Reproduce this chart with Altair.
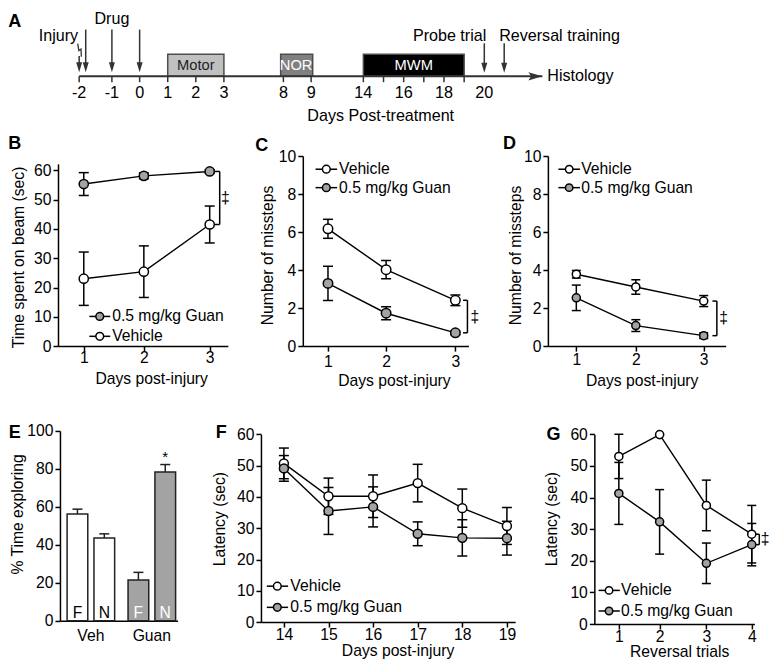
import altair as alt
import pandas as pd

# ------------------------------------------------------------------ data
SERIES_VEH = "Vehicle"
SERIES_GUAN = "0.5 mg/kg Guan"

# A: study timeline (days post-treatment)
A_tick_days = [-2, -1, 0, 1, 2, 3, 8, 9, 14, 15, 16, 17, 18, 19]
A_label_days = [-2, -1, 0, 1, 2, 3, 8, 9, 14, 16, 18, 20]
A_box_labels = ["Motor", "NOR", "MWM"]
A_box_start = [1, 7.77, 14]
A_box_end = [3, 9.15, 19]
A_injury_label = "Injury"
A_injury_day = -2
A_drug_label = "Drug"
A_drug_days = [-1.8, -1, 0]
A_event_labels = ["Probe trial", "Reversal training"]
A_event_days = [20, 21]
A_end_label = "Histology"
A_end_day = 22.9
A_axis_title = "Days Post-treatment"

# B: beam balance
B_days = [1, 2, 3]
B_guan = [55.3, 58.1, 59.6]
B_guan_sem = [3.9, 1.0, 0.6]
B_veh = [23.0, 25.4, 41.5]
B_veh_sem = [9.1, 8.8, 6.3]
B_yticks = [0, 10, 20, 30, 40, 50, 60]

# C: missteps (first test)
C_days = [1, 2, 3]
C_veh = [6.17, 4.02, 2.41]
C_veh_sem = [0.5, 0.48, 0.28]
C_guan = [3.3, 1.73, 0.7]
C_guan_sem = [0.9, 0.34, 0.1]
CD_yticks = [0, 2, 4, 6, 8, 10]

# D: missteps (second test)
D_days = [1, 2, 3]
D_veh = [3.78, 3.11, 2.37]
D_veh_sem = [0.2, 0.38, 0.29]
D_guan = [2.54, 1.08, 0.55]
D_guan_sem = [0.67, 0.31, 0.15]

# E: novel object recognition
E_groups = ["Veh", "Veh", "Guan", "Guan"]
E_objects = ["F", "N", "F", "N"]
E_vals = [56.2, 43.6, 21.5, 78.4]
E_sem = [2.6, 2.2, 4.0, 3.9]
E_sig = ["", "", "", "*"]
E_yticks = [0, 20, 40, 60, 80, 100]

# F: MWM acquisition
F_days = [14, 15, 16, 17, 18, 19]
F_veh = [50.7, 40.2, 40.2, 44.4, 36.4, 30.7]
F_veh_sem = [4.9, 5.8, 6.8, 6.0, 6.1, 5.9]
F_guan = [49.1, 35.5, 36.8, 28.2, 26.9, 26.8]
F_guan_sem = [4.1, 7.5, 6.4, 3.8, 5.8, 5.4]
FG_yticks = [0, 10, 20, 30, 40, 50, 60]

# G: reversal
G_trials = [1, 2, 3, 4]
G_veh = [53.0, 59.9, 37.5, 28.4]
G_veh_sem = [7.0, 0.0, 8.0, 9.1]
G_guan = [41.3, 32.3, 19.2, 25.1]
G_guan_sem = [9.8, 10.2, 6.4, 6.7]

SIG = "\u2021"

# ------------------------------------------------------------------ layout
K = 0.98
COLX = [50.7, 257.3, 549.3]
ROWY = [147.0, 427.3]
CW = [189.3, 274.7, 210.7]
RH = [263.0, 197.0]
SPACING = 17.3


def s(v):
    return round(v * K, 2)


def lx(x, c):
    return s(x - COLX[c])


def ly(y, r):
    return s(y - ROWY[r])


FONT = "Liberation Sans"
GRAY = "#a3a3a3"
FS = round(16 * K, 1)
AF = round(16.4 * K, 1)
AB = round(15 * K, 1)
AT = round(16.5 * K, 1)
LW = 1.5
INK = "#333333"

DOWN_ARROW = "M-0.6,-2 L0.6,-2 L0,0 Z"
RIGHT_ARROW = "M-2,-0.6 L0,0 L-2,0.6 L-1.6,0 Z"
LIGHTNING = "M-1.5,-6.5 L-0.3,0.5 L1.8,-1.2 L2.2,6.5"


def text_layer(txt, x, y, **kw):
    return alt.Chart(pd.DataFrame({"t": [txt]})).mark_text(**kw).encode(
        x=alt.value(x), y=alt.value(y), text="t:N")


def err_df(days, mean, sem):
    return pd.DataFrame({"x": days, "m": mean,
                         "lo": [m - e for m, e in zip(mean, sem)],
                         "hi": [m + e for m, e in zip(mean, sem)]})


def line_panel(p):
    c, r = p["col"], p["row"]
    xs = alt.Scale(domain=p["xdom"], range=[lx(v, c) for v in p["xrng"]], nice=False, zero=False)
    ys = alt.Scale(domain=p["ydom"], range=[ly(p["yrng"][0], r), ly(p["yrng"][1], r)],
                   nice=False, zero=False)
    xaxis = alt.Axis(values=p["xvals"], title=p["xtitle"],
                     offset=round(ly(p["xaxis_y"], r) - s(RH[r]), 2),
                     labelBaseline="middle", labelPadding=round(s(p["xlab_off"]) - 5, 2),
                     titleX=lx(p["xtitle_x"], c), titleY=s(p["xtitle_off"]),
                     titleBaseline="middle", titleAlign="center")
    yaxis = alt.Axis(values=p["yvals"], title=p["ytitle"], offset=-lx(p["yaxis_x"], c),
                     titleX=s(p["ytitle_x"] - p["yaxis_x"]), titleY=ly(p["ytitle_y"], r),
                     titleAngle=270, titleBaseline="middle", titleAlign="center")
    X = alt.X("x:Q", scale=xs, axis=xaxis)

    def Y(f):
        return alt.Y(f, scale=ys, axis=yaxis)

    errs, lines, pts = [], [], []
    for lab, days, mean, sem, fill in p["series"]:
        base = alt.Chart(err_df(days, mean, sem))
        errs.append(base.mark_rule(color="black", strokeWidth=LW).encode(x=X, y=Y("lo:Q"), y2="hi:Q"))
        for f in ("lo:Q", "hi:Q"):
            errs.append(base.mark_tick(orient="horizontal", size=p["cap"], thickness=LW,
                                       color="black", opacity=1).encode(x=X, y=Y(f)))
        lines.append(base.mark_line(color="black", strokeWidth=1.4).encode(x=X, y=Y("m:Q")))
        pts.append(base.mark_point(shape="circle", filled=True, fill=fill, stroke="black",
                                   strokeWidth=LW, size=p["size"], opacity=1).encode(x=X, y=Y("m:Q")))
    layers = errs + lines + pts

    for (lab, fill), yy in zip(p["legend"], p["leg_y"]):
        d = alt.Chart(pd.DataFrame({"t": [lab]}))
        yv = alt.value(ly(yy, r))
        layers.append(d.mark_rule(color="black", strokeWidth=LW).encode(
            x=alt.value(lx(p["leg_x1"], c)), x2=alt.value(lx(p["leg_x2"], c)), y=yv))
        layers.append(d.mark_point(shape="circle", filled=True, fill=fill, stroke="black",
                                   strokeWidth=LW, size=p["leg_size"], opacity=1).encode(
            x=alt.value(lx(p["leg_xc"], c)), y=yv))
        layers.append(d.mark_text(align="left", baseline="middle", fontSize=FS, font=FONT,
                                  color="black").encode(x=alt.value(lx(p["leg_xt"], c)), y=yv, text="t:N"))

    if p.get("bx"):
        a = p["series"][0][2][-1]
        b = p["series"][1][2][-1]
        hi_, lo_ = max(a, b), min(a, b)
        bd = alt.Chart(pd.DataFrame({"a": [hi_], "b": [lo_], "mid": [(hi_ + lo_) / 2], "t": [SIG]}))
        bx = lx(p["bx"], c)
        layers.append(bd.mark_rule(color="black", strokeWidth=LW).encode(
            x=alt.value(bx), y=Y("a:Q"), y2="b:Q"))
        ed = alt.Chart(pd.DataFrame({"v": [hi_, lo_]}))
        layers.append(ed.mark_rule(color="black", strokeWidth=LW).encode(
            x=alt.value(round(bx - s(p["bw"]), 2)), x2=alt.value(bx), y=Y("v:Q")))
        layers.append(bd.mark_text(fontSize=FS, font=FONT, baseline="middle", align="center",
                                   color="black").encode(x=alt.value(lx(p["tx"], c)), y=Y("mid:Q"), text="t:N"))

    layers.append(text_layer(p["letter"], lx(p["let_x"], c), ly(p["let_y"], r), fontSize=18,
                             fontWeight="bold", font=FONT, align="center", baseline="middle",
                             color="black"))
    return alt.layer(*layers)


def timeline():
    c, r = 0, 0
    xs = alt.Scale(domain=[-2, -1, 0, 3, 8, 9, 14, 20, 21, 23],
                   range=[lx(v, c) for v in [72.3, 105.7, 134.0, 220.0, 280.7, 309.0,
                                              362.3, 485.7, 506.0, 547.0]],
                   nice=False, zero=False)

    def X(f):
        return alt.X(f, scale=xs, axis=None)

    def Y(y):
        return alt.value(ly(y, r))

    L = []
    box_fill = ["#c0c0c0", "#808080", "#000000"]
    box_text = ["#222222", "#ffffff", "#ffffff"]
    for i, lab in enumerate(A_box_labels):
        bd = alt.Chart(pd.DataFrame({"a": [A_box_start[i]], "b": [A_box_end[i]],
                                     "mid": [(A_box_start[i] + A_box_end[i]) / 2], "t": [lab]}))
        L.append(bd.mark_rect(fill=box_fill[i], stroke="#4d4d4d", strokeWidth=1.5).encode(
            x=X("a:Q"), x2="b:Q", y=Y(43.3), y2=Y(65.7)))
        L.append(bd.mark_text(font=FONT, fontSize=AB, color=box_text[i], align="center",
                              baseline="middle").encode(x=X("mid:Q"), y=Y(55), text="t:N"))

    ld = alt.Chart(pd.DataFrame({"a": [A_tick_days[0]], "b": [A_end_day]}))
    L.append(ld.mark_rule(color=INK, strokeWidth=2).encode(x=X("a:Q"), x2="b:Q", y=Y(65.7)))
    L.append(ld.mark_point(shape=RIGHT_ARROW, filled=True, fill=INK, size=196, opacity=1).encode(
        x=X("b:Q"), y=Y(65.7)))

    td = alt.Chart(pd.DataFrame({"d": A_tick_days}))
    L.append(td.mark_rule(color=INK, strokeWidth=1.5).encode(x=X("d:Q"), y=Y(65.7), y2=Y(71.7)))
    lab_d = alt.Chart(pd.DataFrame({"d": A_label_days, "t": [str(v) for v in A_label_days]}))
    L.append(lab_d.mark_text(font=FONT, fontSize=AT, align="center", baseline="alphabetic",
                             color="black").encode(x=X("d:Q"), y=Y(88.3), text="t:N"))

    dd = alt.Chart(pd.DataFrame({"d": A_drug_days}))
    L.append(dd.mark_rule(color=INK, strokeWidth=1.5).encode(x=X("d:Q"), y=Y(18), y2=Y(54)))
    L.append(dd.mark_point(shape=DOWN_ARROW, filled=True, fill=INK, size=100, opacity=1).encode(
        x=X("d:Q"), y=Y(61.5)))
    L.append(alt.Chart(pd.DataFrame({"d": [A_drug_days[1]], "t": [A_drug_label]})).mark_text(
        font=FONT, fontSize=AF, align="center", baseline="alphabetic", color="black").encode(
        x=X("d:Q"), y=Y(12), text="t:N"))

    idf = alt.Chart(pd.DataFrame({"d": [A_injury_day], "t": [A_injury_label]}))
    L.append(idf.mark_rule(color=INK, strokeWidth=1.5).encode(x=X("d:Q"), y=Y(45), y2=Y(54)))
    L.append(idf.mark_point(shape=DOWN_ARROW, filled=True, fill=INK, size=100, opacity=1).encode(
        x=X("d:Q"), y=Y(61.5)))
    L.append(idf.mark_point(shape=LIGHTNING, filled=False, stroke=INK, strokeWidth=1.3, size=4,
                            opacity=1).encode(x=X("d:Q"), y=Y(39)))
    L.append(idf.mark_text(font=FONT, fontSize=AF, align="right", baseline="alphabetic", dx=-1,
                           color="black").encode(x=X("d:Q"), y=Y(29.5), text="t:N"))

    ev = alt.Chart(pd.DataFrame({"d": A_event_days}))
    L.append(ev.mark_rule(color=INK, strokeWidth=1.5).encode(x=X("d:Q"), y=Y(32), y2=Y(55)))
    L.append(ev.mark_point(shape=DOWN_ARROW, filled=True, fill=INK, size=100, opacity=1).encode(
        x=X("d:Q"), y=Y(62)))
    L.append(alt.Chart(pd.DataFrame({"d": [A_event_days[0]], "t": [A_event_labels[0]]})).mark_text(
        font=FONT, fontSize=AF, align="right", baseline="alphabetic", dx=2, color="black").encode(
        x=X("d:Q"), y=Y(29.5), text="t:N"))
    L.append(alt.Chart(pd.DataFrame({"d": [A_event_days[1]], "t": [A_event_labels[1]]})).mark_text(
        font=FONT, fontSize=AF, align="left", baseline="alphabetic", dx=-5, color="black").encode(
        x=X("d:Q"), y=Y(29.5), text="t:N"))
    L.append(alt.Chart(pd.DataFrame({"d": [A_end_day], "t": [A_end_label]})).mark_text(
        font=FONT, fontSize=AF, align="left", baseline="middle", dx=5, color="black").encode(
        x=X("d:Q"), y=Y(65), text="t:N"))
    L.append(text_layer(A_axis_title, lx(380, c), ly(106, r), font=FONT, fontSize=AF,
                        align="center", baseline="middle", color="black"))
    L.append(text_layer("A", lx(6.5, c), ly(10, r), fontSize=18, fontWeight="bold", font=FONT,
                        align="center", baseline="middle", color="black"))
    return alt.layer(*L)


def panel_E():
    c, r = 0, 1
    df = pd.DataFrame({"g": E_groups, "o": E_objects, "v": E_vals,
                       "top": [v + e for v, e in zip(E_vals, E_sem)],
                       "base": [0] * len(E_vals), "sig": E_sig})
    xs = alt.Scale(domain=["Veh", "Guan"], range=[lx(52.7, c), lx(172.7, c)],
                   paddingInner=0.22, paddingOuter=0.0746, align=0.785)
    xo = alt.Scale(domain=["F", "N"], paddingInner=0.23, paddingOuter=0)
    ys = alt.Scale(domain=[0, 100], range=[ly(621, r), ly(427.3, r)], nice=False, zero=False)
    xaxis = alt.Axis(title=None, ticks=False, tickSize=0, labelAngle=0, labelBaseline="middle",
                     labelPadding=s(14.7), labelFontSize=FS,
                     offset=round(ly(621, r) - s(RH[r]), 2))
    yaxis = alt.Axis(values=E_yticks, title="% Time exploring", offset=-lx(52.7, c),
                     titleX=s(9 - 52.7), titleY=ly(512, r), titleAngle=270,
                     titleBaseline="middle", titleAlign="center")
    X = alt.X("g:N", scale=xs, axis=xaxis, sort=["Veh", "Guan"])
    XO = alt.XOffset("o:N", scale=xo, sort=["F", "N"])

    def Y(f):
        return alt.Y(f, scale=ys, axis=yaxis)

    base = alt.Chart(df)
    L = [
        base.mark_bar(stroke="#222222", strokeWidth=LW).encode(
            x=X, xOffset=XO, y=Y("v:Q"), y2="base:Q",
            fill=alt.condition("datum.g === 'Veh'", alt.value("white"), alt.value(GRAY))),
        base.mark_rule(color="#222222", strokeWidth=LW).encode(x=X, xOffset=XO, y=Y("v:Q"), y2="top:Q"),
        base.mark_tick(orient="horizontal", size=10, thickness=LW, color="#222222", opacity=1).encode(
            x=X, xOffset=XO, y=Y("top:Q")),
        base.mark_text(fontSize=FS, font=FONT, baseline="alphabetic", align="center", dy=-s(2.7)).encode(
            x=X, xOffset=XO, y=Y("base:Q"), text="o:N",
            color=alt.condition("datum.g === 'Veh'", alt.value("black"), alt.value("white"))),
        base.mark_text(fontSize=15, font=FONT, baseline="alphabetic", align="center", dy=-3,
                       color="black").encode(x=X, xOffset=XO, y=Y("top:Q"), text="sig:N"),
        text_layer("E", lx(6.5, c), ly(429, r), fontSize=18, fontWeight="bold", font=FONT,
                   align="center", baseline="middle", color="black"),
    ]
    return alt.layer(*L).properties(width=s(CW[c]), height=s(RH[r]))


LEG_VG = [(SERIES_VEH, "white"), (SERIES_GUAN, GRAY)]

B = dict(col=0, row=0, xdom=[0.59, 1, 2, 3, 3.28], xrng=[50.7, 77, 138.3, 205.5, 224],
         ydom=[0, 62.2], yrng=[341, 155], yaxis_x=50.7, xaxis_y=341,
         xvals=B_days, yvals=B_yticks, xlab_off=11.5, xtitle="Days post-injury",
         xtitle_x=145.8, xtitle_off=33.5, ytitle="Time spent on beam (sec)",
         ytitle_x=10, ytitle_y=250,
         series=[(SERIES_GUAN, B_days, B_guan, B_guan_sem, GRAY),
                 (SERIES_VEH, B_days, B_veh, B_veh_sem, "white")],
         size=85, cap=10, legend=[(SERIES_GUAN, GRAY), (SERIES_VEH, "white")],
         leg_y=[310.7, 331], leg_x1=82.7, leg_x2=104, leg_xc=93.3, leg_xt=106, leg_size=60,
         bx=215.7, bw=5, tx=221.5, letter="B", let_x=6.5, let_y=135)

C = dict(col=1, row=0, xdom=[0.567, 1, 2, 3, 3.19], xrng=[300, 325.7, 385, 455.7, 469],
         ydom=[0, 10], yrng=[341, 147], yaxis_x=300, xaxis_y=341,
         xvals=C_days, yvals=CD_yticks, xlab_off=15.7, xtitle="Days post-injury",
         xtitle_x=393, xtitle_off=35.5, ytitle="Number of missteps",
         ytitle_x=264, ytitle_y=248,
         series=[(SERIES_VEH, C_days, C_veh, C_veh_sem, "white"),
                 (SERIES_GUAN, C_days, C_guan, C_guan_sem, GRAY)],
         size=90, cap=10, legend=LEG_VG,
         leg_y=[160.5, 179.3], leg_x1=313, leg_x2=335, leg_xc=324, leg_xt=337, leg_size=60,
         bx=468, bw=4.5, tx=475.5, letter="C", let_x=258, let_y=137)

D = dict(col=2, row=0, xdom=[0.52, 1, 2, 3, 3.32], xrng=[549.3, 578.3, 639, 708.3, 730.7],
         ydom=[0, 10], yrng=[341, 147], yaxis_x=549.3, xaxis_y=341,
         xvals=D_days, yvals=CD_yticks, xlab_off=14, xtitle="Days post-injury",
         xtitle_x=645, xtitle_off=35.5, ytitle="Number of missteps",
         ytitle_x=516, ytitle_y=248,
         series=[(SERIES_VEH, D_days, D_veh, D_veh_sem, "white"),
                 (SERIES_GUAN, D_days, D_guan, D_guan_sem, GRAY)],
         size=65, cap=9, legend=LEG_VG,
         leg_y=[160.5, 179.3], leg_x1=560, leg_x2=582, leg_xc=571, leg_xt=583.3, leg_size=55,
         bx=721.7, bw=4.5, tx=728.5, letter="D", let_x=510, let_y=135)

F = dict(col=1, row=1, xdom=[13.486, 19.185], xrng=[257.3, 516.7],
         ydom=[0, 60], yrng=[622.3, 430.7], yaxis_x=257.3, xaxis_y=622.3,
         xvals=F_days, yvals=FG_yticks, xlab_off=13.0, xtitle="Days post-injury",
         xtitle_x=396.7, xtitle_off=29.4, ytitle="Latency (sec)",
         ytitle_x=215, ytitle_y=516.7,
         series=[(SERIES_VEH, F_days, F_veh, F_veh_sem, "white"),
                 (SERIES_GUAN, F_days, F_guan, F_guan_sem, GRAY)],
         size=80, cap=10, legend=LEG_VG,
         leg_y=[585.7, 607.3], leg_x1=263.3, leg_x2=285, leg_xc=274, leg_xt=287.3, leg_size=60,
         letter="F", let_x=216.7, let_y=429)

G = dict(col=2, row=1, xdom=[0.4, 1, 2, 3, 4, 4.06], xrng=[596.7, 621.7, 663.3, 711, 757.3, 760],
         ydom=[0, 60], yrng=[624.3, 430.7], yaxis_x=596.7, xaxis_y=624.3,
         xvals=G_trials, yvals=FG_yticks, xlab_off=12.6, xtitle="Reversal trials",
         xtitle_x=683.3, xtitle_off=28.2, ytitle="Latency (sec)",
         ytitle_x=553.3, ytitle_y=516.7,
         series=[(SERIES_VEH, G_trials, G_veh, G_veh_sem, "white"),
                 (SERIES_GUAN, G_trials, G_guan, G_guan_sem, GRAY)],
         size=65, cap=9, legend=LEG_VG,
         leg_y=[590, 611], leg_x1=601, leg_x2=622.7, leg_xc=611.7, leg_xt=624, leg_size=55,
         bx=765, bw=4, tx=771, letter="G", let_x=555, let_y=431)


def sized(ch, p):
    return ch.properties(width=s(CW[p["col"]]), height=s(RH[p["row"]]))


panel_B = alt.layer(line_panel(B), timeline()).resolve_scale(x="independent").properties(
    width=s(CW[0]), height=s(RH[0]))

chart = alt.concat(
    panel_B, sized(line_panel(C), C), sized(line_panel(D), D),
    panel_E(), sized(line_panel(F), F), sized(line_panel(G), G),
    columns=3,
).properties(
    align="each", bounds="flush", spacing=s(SPACING),
    padding={"left": 0, "top": 2, "right": 0, "bottom": 0}, background="white"
).configure(font=FONT).configure_view(stroke=None).configure_axis(
    domainColor="black", domainWidth=1.5, tickColor="black", tickWidth=1.5, tickSize=5,
    labelFont=FONT, labelFontSize=FS, labelColor="black", labelPadding=2,
    titleFont=FONT, titleFontSize=FS, titleFontWeight="normal", titleColor="black",
    grid=False, labelFlush=False, labelOverlap=False,
)

chart.save("out.html", embed_options={"renderer": "svg", "actions": False})
